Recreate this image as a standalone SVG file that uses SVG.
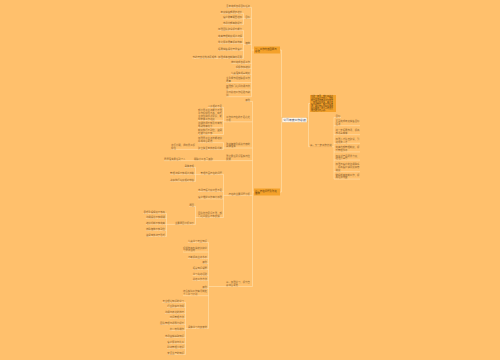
<svg xmlns="http://www.w3.org/2000/svg" width="500" height="360" viewBox="0 0 500 360">
<style>
.c{fill:none;stroke:#FFE3B3;stroke-width:0.6}
.t{font-family:"Noto Sans CJK SC","Liberation Sans",sans-serif;font-size:2.4px;fill:#8a6130}
.e{text-anchor:end}
.box{fill:#F4A12A}
.bt{font-family:"Noto Sans CJK SC","Liberation Sans",sans-serif;font-size:2.4px;fill:#5b3a10}
</style>
<rect width="500" height="360" fill="#FFC06C"/>
<g id="connectors" class="c">
<path d="M282,120H281.5V50H280M281.5,120V192H280M307,120H308.5V103.5H310M308.5,120V146.7H310"/>
<path d="M254,50H251.5M251.5,7.4V96.7M226,7.4H251.5M243.5,18.4H251.5M243.5,13.4V24.4M220.4,13.4H243.5M222.8,18.9H243.5M222.8,24.4H243.5M243.5,44.4H251.5M243.5,30.4V58.4M218,30.4H243.5M218,37.4H243.5M218,43.4H243.5M218,50.4H243.5M192.5,58.4H243.5M230.8,63.4H251.5M235.6,68.4H251.5M230.8,74.4H251.5M226,82.5H251.5M226,90.1H251.5M226,96.7H251.5"/>
<path d="M254,192H252.5M252.5,101.4V286.5M245.2,101.4H252.5M223.5,121.8H252.5M223.5,107.4V134.5M207.6,107.4H223.5M198,120.4H223.5M198,127.7H223.5M198,134.5H223.5M223.5,148H252.5M223.5,142.7V149.4M198,142.7H223.5M171,149.4H223.5M163.9,160.6H252.5M223.5,195.4H252.5M223.5,174.4V217.5M195.5,174.4H223.5M195.5,167.4V181.4M184.4,167.4H195.5M170,174.4H195.5M170,181.4H195.5M198,191.4H223.5M198,198.9H223.5M195.5,217.5H223.5M195.5,206.4V224.4M189.2,206.4H195.5M166.5,224.4H195.5M166.5,213.4V236.4M143.4,213.4H166.5M145.8,218.4H166.5M145.8,224.4H166.5M145.8,230.4H166.5M145.8,236.4H166.5"/>
<path d="M208.5,286.5H252.5M208.5,242.4V328.4M187.8,242.4H208.5M183,252H208.5M187.8,258.4H208.5M202.2,263.4H208.5M192.6,269.4H208.5M192.6,275.4H208.5M192.6,280.4H208.5M202.2,288.4H208.5M183,295.7H208.5M185.5,328.4H208.5M185.5,302.4V354.4M162.4,302.4H185.5M167.2,307.4H185.5M164.8,313.4H185.5M169.6,318.4H185.5M160,324.4H185.5M169.6,330.4H185.5M164.8,337.4H185.5M167.2,343.4H185.5M167.2,348.4H185.5M167.2,354.4H185.5"/>
<path d="M310,146.7H334M334,117.4V179.1M334,117.4H341M334,125.7H360M334,134.7H360M334,143.3H360M334,151.9H360M334,160.1H360M334,171.7H360M334,179.1H360"/>
</g>
<g id="root"><rect x="282" y="117.3" width="25" height="5.4" fill="#FFF6E8" stroke="#E9A23B" stroke-width="0.4"/><text x="294.5" y="121" text-anchor="middle" style="font-family:'Noto Sans CJK SC',sans-serif;font-size:2.8px;fill:#34466e">公司年度工作总结</text></g>
<g id="L1"><rect class="box" x="254" y="46.5" width="26" height="7"/><text class="bt" x="255" y="49.6">一、工作内容回顾与</text><text class="bt" x="255" y="52.4">总结</text></g>
<g id="L1-kids" class="t">
<text class="e" x="250" y="6.8">全年完成各项目标任务</text>
<text class="e" x="250" y="17.8">目标</text>
<text class="e" x="242" y="12.8">年度销售额稳步增长</text>
<text class="e" x="242" y="18.3">客户数量明显增加</text>
<text class="e" x="242" y="23.8">市场份额有所提升</text>
<text class="e" x="250" y="43.8">措施</text>
<text class="e" x="242" y="29.8">加强团队建设提升能力</text>
<text class="e" x="242" y="36.8">完善管理制度规范流程</text>
<text class="e" x="242" y="42.8">优化服务质量提高效率</text>
<text class="e" x="242" y="49.8">拓展销售渠道开发客户</text>
<text class="e" x="242" y="57.8">加强成本控制降低费用</text>
<text class="e" x="216.5" y="57.8">节约开支杜绝浪费现象</text>
<text class="e" x="250" y="62.8">按时完成各项工作</text>
<text class="e" x="250" y="67.8">积极参加培训</text>
<text class="e" x="250" y="73.8">认真落实规章制度</text>
<text x="226" y="79">注重细节把控确保工作</text><text x="226" y="81.8">质量</text>
<text x="226" y="86.6">加强部门之间沟通与协</text><text x="226" y="89.4">作</text>
<text x="226" y="93.2">及时总结工作经验与教</text><text x="226" y="96">训</text>
</g>
<g id="L3"><rect class="box" x="254" y="188.5" width="26" height="7"/><text class="bt" x="255" y="191.6">二、存在问题及改进</text><text class="bt" x="255" y="194.4">措施</text></g>
<g id="L3-kids" class="t">
<text class="e" x="250" y="100.8">其他</text>
<text x="226" y="118.3">工作中存在的不足之处</text><text x="226" y="121.1">分析</text>
<text class="e" x="222" y="106.8">人手相对不足</text>
<text x="198" y="111.3">部分员工业务能力不强</text><text x="198" y="114.1">工作积极性不高，缺乏</text><text x="198" y="116.9">主动性和创新意识，影</text><text x="198" y="119.7">响整体工作进度</text>
<text x="198" y="124.2">沟通协调不够及时有效</text><text x="198" y="127">导致效率低下</text>
<text x="198" y="131.1">制度执行不到位，监督</text><text x="198" y="133.9">检查力度不够</text>
<text x="226" y="144.5">改进措施及解决方案的</text><text x="226" y="147.3">具体落实</text>
<text x="198" y="139.3">加强员工业务技能培训</text><text x="198" y="142.1">提高综合素质</text>
<text x="198" y="148.8">建立健全考核激励机制</text>
<text x="171" y="146.1">奖惩分明，调动员工积</text><text x="171" y="148.9">极性</text>
<text x="226" y="157.2">强化责任意识落实岗位</text><text x="226" y="160">职责</text>
<text class="e" x="213" y="160">明确分工各司其职</text>
<text class="e" x="185.5" y="160">层层落实责任到个人</text>
<text class="e" x="250" y="194.8">存在的主要问题分析</text>
<text class="e" x="222" y="173.8">管理方面存在的问题</text>
<text class="e" x="194" y="166.8">具体表现</text>
<text class="e" x="194" y="173.8">管理流程不够规范清晰</text>
<text class="e" x="194" y="180.8">决策执行速度相对较慢</text>
<text class="e" x="222" y="190.8">市场开拓力度仍显不足</text>
<text class="e" x="222" y="198.3">客户维护工作有待加强</text>
<text x="198" y="214.1">团队协作意识不强，部</text><text x="198" y="216.9">门之间配合不够默契</text>
<text class="e" x="194" y="205.8">原因</text>
<text class="e" x="194" y="223.8">主要原因分析如下</text>
<text class="e" x="165" y="212.8">思想重视程度不够高</text>
<text class="e" x="165" y="217.8">沟通渠道不够畅通</text>
<text class="e" x="165" y="223.8">培训机制不够完善</text>
<text class="e" x="165" y="229.8">激励措施不够到位</text>
<text class="e" x="165" y="235.8">监督考核流于形式</text>
<text x="226" y="283">三、加强学习，提升自</text><text x="226" y="285.8">身综合素质</text>
<text class="e" x="207" y="241.8">认真学习专业知识</text>
<text x="183" y="248.5">积极参加各类培训和学</text><text x="183" y="251.3">习交流活动</text>
<text class="e" x="207" y="257.8">不断提高业务水平</text>
<text class="e" x="207" y="262.8">其他</text>
<text class="e" x="207" y="268.8">拓宽知识视野</text>
<text class="e" x="207" y="274.8">学习先进经验</text>
<text class="e" x="207" y="279.8">总结工作方法</text>
<text class="e" x="207" y="287.8">其他</text>
<text x="183" y="292.2">结合实际工作情况制定</text><text x="183" y="295">个人学习计划</text>
<text class="e" x="207" y="327.8">具体学习内容安排</text>
<text class="e" x="184" y="301.8">专业理论知识的学习</text>
<text class="e" x="184" y="306.8">行业政策与法规</text>
<text class="e" x="184" y="312.8">沟通与表达的技巧</text>
<text class="e" x="184" y="317.8">时间管理方法</text>
<text class="e" x="184" y="323.8">团队管理与领导力提升</text>
<text class="e" x="184" y="329.8">办公软件操作</text>
<text class="e" x="184" y="336.8">市场营销基础知识</text>
<text class="e" x="184" y="342.8">客户服务与礼仪</text>
<text class="e" x="184" y="347.8">财务管理小常识</text>
<text class="e" x="184" y="353.8">安全生产的知识</text>
</g>
<g id="R1"><rect class="box" x="310" y="95" width="26" height="17"/>
<g style="font-family:'Noto Sans CJK SC',sans-serif;font-size:2px;fill:#5b3a10">
<text x="311" y="97.4">新的一年里，我们将继续</text>
<text x="311" y="99.35">坚持以客户为中心，不断</text>
<text x="311" y="101.3">提升服务质量和工作效率</text>
<text x="311" y="103.25">，加强团队建设，完善各</text>
<text x="311" y="105.2">项管理制度，努力开拓市</text>
<text x="311" y="107.15">场，确保各项目标任务的</text>
<text x="311" y="109.1">顺利完成，为公司的发展</text>
<text x="311" y="111.05">做出更大的贡献。</text>
</g></g>
<g id="R2"><text class="t" x="310" y="146" style="fill:#6e4a1c">三、下一步工作计划</text><path d="M310,146.7H332" stroke="#E8962A" stroke-width="0.5"/></g>
<g id="R2-kids" class="t">
<text x="335.5" y="116.8">目标</text>
<text x="335.5" y="122.2">全面完成年度销售目标</text><text x="335.5" y="125">任务</text>
<text x="335.5" y="131.2">进一步拓展市场，提高</text><text x="335.5" y="134">市场占有率</text>
<text x="335.5" y="139.8">加强人才队伍建设，引</text><text x="335.5" y="142.6">进优秀人才</text>
<text x="335.5" y="148.4">完善内部管理制度，提</text><text x="335.5" y="151.2">升管理水平</text>
<text x="335.5" y="156.6">加大新产品研发力度，</text><text x="335.5" y="159.4">增强竞争力</text>
<text x="335.5" y="165.4">加强与客户的沟通联系</text><text x="335.5" y="168.2">，提高客户满意度和忠</text><text x="335.5" y="171">诚度</text>
<text x="335.5" y="175.6">做好成本控制工作，提</text><text x="335.5" y="178.4">高经济效益</text>
</g>
</svg>
